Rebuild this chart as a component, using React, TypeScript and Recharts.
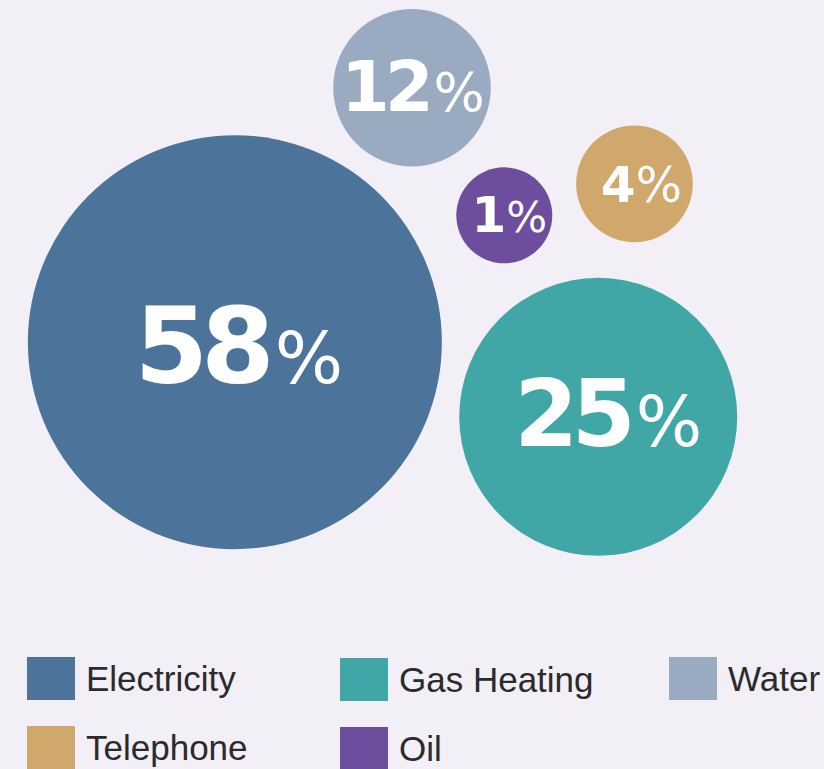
import React from 'react';
import { ScatterChart, Scatter, XAxis, YAxis, ZAxis, Legend } from 'recharts';

// bill categories and their share of household utility spending
const categories = ['Electricity', 'Gas Heating', 'Water', 'Telephone', 'Oil'];
const shares = [58, 25, 12, 4, 1];
// bubble placement on a 0-100 layout grid, and relative bubble area
const layoutX = [28.5, 72.6, 50.0, 77.0, 61.2];
const layoutY = [55.5, 45.8, 88.6, 76.1, 72.0];
const bubbleArea = [428, 193, 62, 34, 23];

const COLORS: Record<string, string> = {
  Electricity: '#4c7399',
  'Gas Heating': '#40a7a6',
  Water: '#99aac1',
  Telephone: '#d0a86b',
  Oil: '#6d4e9e',
};

// label type sizes per bubble
const LABEL: Record<string, { num: number; pct: number; dx: number; dy: number }> = {
  Electricity: { num: 106, pct: 72, dx: 4, dy: 41 },
  'Gas Heating': { num: 92, pct: 70, dx: 10, dy: 29 },
  Water: { num: 70, pct: 54, dx: 1, dy: 23 },
  Telephone: { num: 50, pct: 49, dx: 7, dy: 18 },
  Oil: { num: 50, pct: 43, dx: 5, dy: 17 },
};

const data = categories.map((name, i) => ({
  name,
  share: shares[i],
  x: layoutX[i],
  y: layoutY[i],
  z: bubbleArea[i],
}));

const W = 824;
const H = 769;
const BG = '#f2eff6';
const maxR = 207;

function Bubble(props: any) {
  const { cx, cy, width, payload } = props;
  const r = width / 2;
  const s = LABEL[payload.name];
  return (
    <g>
      <circle cx={cx} cy={cy} r={r} fill={COLORS[payload.name]} />
      <text
        x={cx + s.dx}
        y={cy + s.dy}
        textAnchor="middle"
        fill="#ffffff"
        fontFamily="'DejaVu Sans', sans-serif"
      >
        <tspan fontSize={s.num} fontWeight={700} letterSpacing={-s.num * 0.07}>
          {payload.share}
        </tspan>
        <tspan fontSize={s.pct} fontWeight={400} dx={s.num * 0.07}>%</tspan>
      </text>
    </g>
  );
}

const colLeft = [27, 340, 669];

function LegendGrid() {
  return (
    <div style={{ position: 'relative', width: W, height: 130 }}>
      {categories.map((name, i) => {
        const col = i % 3;
        const row = Math.floor(i / 3);
        return (
          <div
            key={name}
            style={{
              position: 'absolute',
              left: colLeft[col],
              top: row * 69 + (col === 1 ? 1 : 0),
              display: 'flex',
              alignItems: 'center',
              height: 43,
            }}
          >
            <div style={{ width: 48, height: 43, background: COLORS[name] }} />
            <span
              style={{
                marginLeft: 11,
                fontFamily: "'Liberation Sans', Arial, sans-serif",
                fontSize: 35,
                color: '#2b2b2b',
                lineHeight: '43px',
                whiteSpace: 'nowrap',
              }}
            >
              {name}
            </span>
          </div>
        );
      })}
    </div>
  );
}

export default function App() {
  return (
    <div style={{ width: W, height: H, background: BG, overflow: 'hidden' }}>
      <style>{`body{margin:0;background:${BG};}`}</style>
      <ScatterChart width={W} height={H} margin={{ top: 0, right: 0, bottom: 0, left: 0 }}>
        <XAxis type="number" dataKey="x" domain={[0, 100]} hide />
        <YAxis type="number" dataKey="y" domain={[0, 100]} hide />
        <ZAxis type="number" dataKey="z" domain={[0, 428]} range={[0, Math.PI * maxR * maxR]} />
        <Legend
          layout="horizontal"
          verticalAlign="middle"
          align="center"
          content={() => <LegendGrid />}
          wrapperStyle={{ top: 657, left: 0, width: W }}
        />
        <Scatter data={data} shape={Bubble} isAnimationActive={false} />
      </ScatterChart>
    </div>
  );
}
